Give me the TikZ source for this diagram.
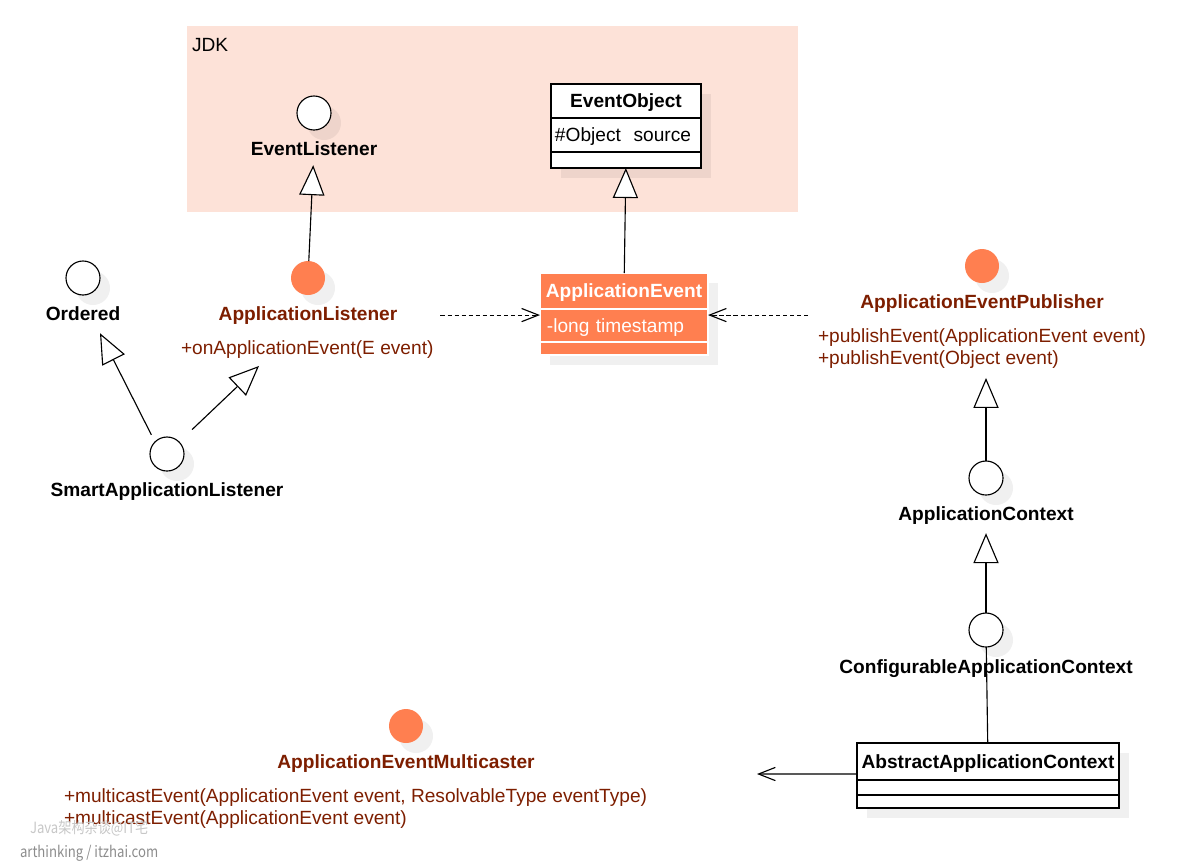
\documentclass[tikz,border=0pt]{standalone}
\usepackage{fontspec}
\setmainfont{Liberation Sans}
\newfontfamily\wmfont[FakeStretch=0.85]{Noto Sans CJK SC}
\usetikzlibrary{positioning,arrows.meta,shadows,calc}

\definecolor{coral}{RGB}{255,127,80}
\definecolor{darkred}{RGB}{125,30,0}
\definecolor{jdkbg}{RGB}{253,226,216}

\begin{document}
\begin{tikzpicture} [
        x=0.025cm, y=-0.025cm,
        every node/.style = {inner sep=0pt, outer sep=0pt, font=\fontsize{13.6}{16}\selectfont},
        boxshadow/.style = {drop shadow={shadow xshift=0.25cm, shadow yshift=-0.25cm, fill=black, opacity=0.06}},
        iface/.style = {draw=black, circle, fill=white, minimum size=0.85cm, line width=0.8pt, boxshadow},
        siface/.style = {iface, draw=none, fill=coral},
        lbl/.style = {anchor=base, font=\fontsize{13.6}{16}\selectfont\bfseries},
        slbl/.style = {lbl, text=darkred},
        meth/.style = {anchor=base west, text=darkred},
        ctr/.style = {text height=9.7pt, text depth=0pt},
        hdr/.style = {draw=black, fill=white, line width=0.8pt, font=\fontsize{13.6}{16}\selectfont\bfseries, ctr, boxshadow},
        part/.style = {draw=black, fill=white, line width=0.8pt, align=left, boxshadow},
        ahdr/.style = {hdr, draw=white, fill=coral, text=white},
        apart/.style = {part, draw=white, fill=coral, text=white},
        gen/.style = {line width=0.8pt, -{Triangle[fill=white, length=0.75cm, width=0.63cm]}},
        dep/.style = {line width=0.8pt, dash pattern=on 3pt off 2pt, -{Straight Barb[length=0.42cm, width=0.33cm]}},
        assoc/.style = {line width=0.8pt, -{Straight Barb[length=0.42cm, width=0.33cm]}},
        link/.style = {line width=0.8pt},
    ]
    \useasboundingbox (0,0) rectangle (1200,864);

    % JDK package
    \fill[jdkbg] (187,26) rectangle (798,212);
    \node[anchor=base west] (jdk) at (192,51) {JDK};

    % classes
    \node[hdr, minimum width=3.75cm, minimum height=0.85cm] (eoH) at (626,101) {EventObject};
    \node[part, ctr, below=0pt of eoH, text width=3.55cm, inner xsep=0.1cm, minimum height=0.85cm] (eoA) {\mbox{\#Object\ \ source}};
    \node[part, below=0pt of eoA, minimum width=3.75cm, minimum height=0.4cm] (eoO) {};

    \node[ahdr, minimum width=4.2cm, minimum height=0.9cm] (aeH) at (624,291) {ApplicationEvent};
    \node[apart, ctr, below=0pt of aeH, text width=3.85cm, inner xsep=0.175cm, minimum height=0.825cm] (aeA) {-long timestamp};
    \node[apart, below=0pt of aeA, minimum width=4.2cm, minimum height=0.325cm] (aeO) {};

    \node[hdr, minimum width=6.55cm, minimum height=0.925cm] (aacH) at (988,761.5) {AbstractApplicationContext};
    \node[part, below=0pt of aacH, minimum width=6.55cm, minimum height=0.375cm] (aacA) {};
    \node[part, below=0pt of aacA, minimum width=6.55cm, minimum height=0.325cm] (aacO) {};

    % interfaces
    \node[iface] (el) at (314,113) {};
    \node[lbl] (elL) at (314,155) {EventListener};
    \node[iface] (ord) at (83,278) {};
    \node[lbl] (ordL) at (83,320) {Ordered};
    \node[siface] (al) at (308,278) {};
    \node[slbl] (alL) at (308,320) {ApplicationListener};
    \node[meth] (alM) at (181,354) {+onApplicationEvent(E event)};
    \node[iface] (smart) at (167,454) {};
    \node[lbl] (smartL) at (167,496) {SmartApplicationListener};
    \node[siface] (aep) at (982,266) {};
    \node[slbl] (aepL) at (982,308) {ApplicationEventPublisher};
    \node[meth] (aepM1) at (818,342) {+publishEvent(ApplicationEvent event)};
    \node[meth] (aepM2) at (818,364) {+publishEvent(Object event)};
    \node[iface] (ac) at (986,478) {};
    \node[lbl] (acL) at (986,520) {ApplicationContext};
    \node[iface] (cac) at (986,630) {};
    \node[lbl] (cacL) at (986,673) {ConfigurableApplicationContext};
    \node[siface] (aem) at (406,726) {};
    \node[slbl] (aemL) at (406,768) {ApplicationEventMulticaster};
    \node[meth] (aemM1) at (64,802) {+multicastEvent(ApplicationEvent event, ResolvableType eventType)};
    \node[meth] (aemM2) at (64,824) {+multicastEvent(ApplicationEvent event)};

    % watermark
    \node[anchor=base west, text=black!22, font=\wmfont\fontsize{11}{13}\selectfont] (wm) at (30,833) {Java架构杂谈@IT宅};
    \node[anchor=base west, text=black!45, font=\wmfont\fontsize{11}{13}\selectfont] (site) at (20,857) {arthinking / itzhai.com};

    \coordinate (mc) at (757,774);

    \draw[gen, shorten >=0.25cm] (al) -- (elL);
    \draw[gen] (aeH) -- (eoO);
    \draw[gen, shorten <=0.2cm] (smart.north west) -- ([shift={(17,13)}]ordL.south);
    \draw[gen, shorten <=0.45cm] (smart.north east) -- ([shift={(78,8)}]alM.south west);
    \draw[dep] ($(alM.east |- alL.east)+(7,0)$) -- (alL.east -| aeH.west);
    \draw[dep] ($(aepM1.west |- alL.east)+(-10,0)$) -- (alL.east -| aeH.east);
    \draw[gen, shorten >=0.25cm] (ac) -- (ac |- aepM2.south);
    \draw[gen, shorten >=0.23cm] (cac) -- (acL);
    \draw[link] (aacH) -- (cac);
    \draw[assoc] ([shift={(0,-6)}]aacH.south west) -- (mc);
\end{tikzpicture}
\end{document}
